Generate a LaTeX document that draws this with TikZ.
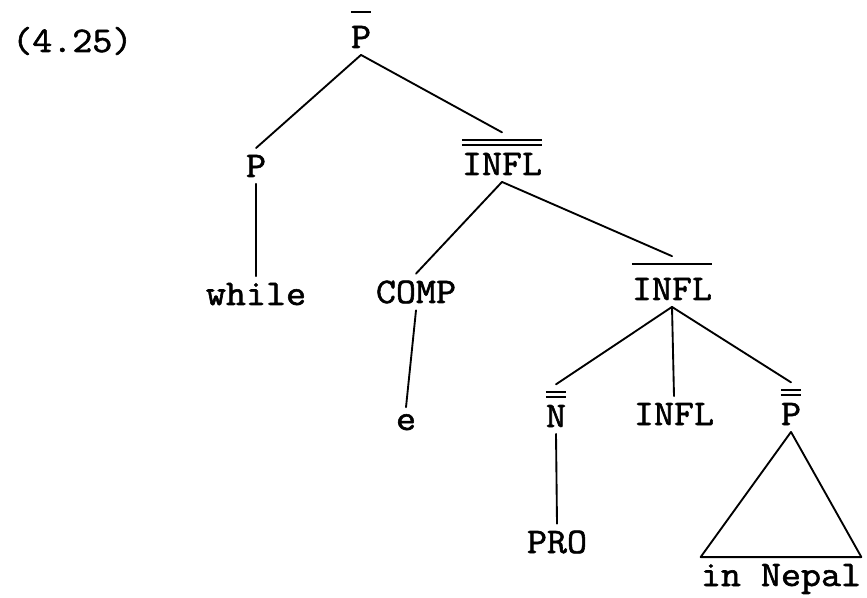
\documentclass[tikz,border=0pt]{standalone}
\usepackage{fontspec}
\setmonofont[FakeBold=1.6, FakeStretch=1.08]{Latin Modern Mono}

% bars over category labels
\newcommand{\sbar}[1]{\vbox{\hrule height 1.2pt\kern 10pt\hbox{#1}}}
\newcommand{\dbar}[1]{\vbox{\hrule height 1.2pt\kern 2.4pt\hrule height 1.2pt\kern 5.5pt\hbox{#1}}}

\begin{document}
\begin{tikzpicture}[x=0.75pt, y=-0.75pt,
  cat/.style={font=\ttfamily\fontsize{27}{32}\selectfont, anchor=base,
    inner xsep=0pt, inner ysep=5pt},
  branch/.style={line width=1.4pt, line cap=round, line join=round}]
\useasboundingbox (0,0) rectangle (867,598);

\node[cat, anchor=base west] (num) at (12,52) {(4.25)};

\node[cat] (Pbar) at (361,48) {\sbar{P}};
\node[cat] (P) at (256,177) {P};
\node[cat] (Ibb) at (502,175) {\dbar{INFL}};
\node[cat] (while) at (256,305) {while};
\node[cat] (comp) at (416,303) {COMP};
\node[cat] (Ib) at (672,300) {\sbar{INFL}};
\node[cat] (e) at (406,430) {e};
\node[cat] (Nbb) at (556,427) {\dbar{N}};
\node[cat] (I) at (674,425) {INFL};
\node[cat] (Pbb) at (791,425) {\dbar{P}};
\node[cat] (pro) at (557,553) {PRO};
\node[cat] (nepal) at (781,586) {in Nepal};

\draw[branch] (Pbar.south) -- (P.north);
\draw[branch] (Pbar.south) -- (Ibb.north);
\draw[branch] (P.south) -- (while.north);
\draw[branch] (Ibb.south) -- (comp.north);
\draw[branch] (Ibb.south) -- (Ib.north);
\draw[branch] (comp.south) -- (e.north);
\draw[branch] (Ib.south) -- (Nbb.north);
\draw[branch] (Ib.south) -- (I.north);
\draw[branch] (Ib.south) -- (Pbb.north);
\draw[branch] (Nbb.south) -- (pro.north);
\draw[branch] (Pbb.south) -- (nepal.north west) -- (nepal.north east) -- cycle;
\end{tikzpicture}
\end{document}
